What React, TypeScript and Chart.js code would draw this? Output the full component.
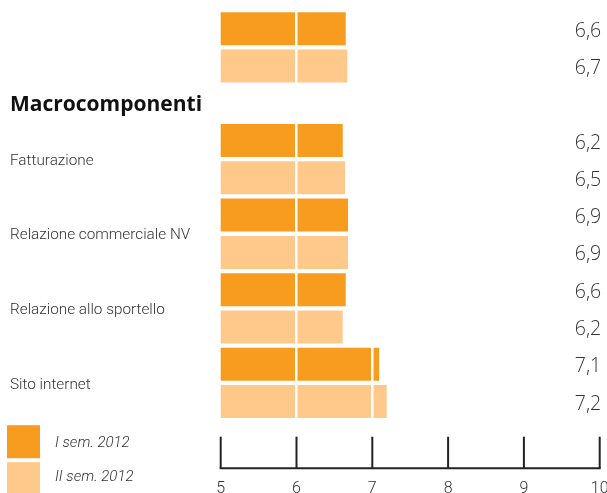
import React, { useEffect, useRef } from "react";
import { Chart, registerables } from "chart.js";

Chart.register(...registerables);

// ---- data ----
const rowKeys = [
  "totale-1", "totale-2", "header",
  "fatturazione-1", "fatturazione-2",
  "commerciale-1", "commerciale-2",
  "sportello-1", "sportello-2",
  "sito-1", "sito-2",
];
const series1Label = "I sem. 2012";
const series2Label = "II sem. 2012";
const series1Values = [6.65, null, null, 6.61, null, 6.68, null, 6.65, null, 7.09, null];
const series2Values = [null, 6.67, null, null, 6.64, null, 6.68, null, 6.61, null, 7.19];
const valueLabels = ["6,6", "6,7", "", "6,2", "6,5", "6,9", "6,9", "6,6", "6,2", "7,1", "7,2"];
const headerLabel = "Macrocomponenti";
const headerRow = 2;
const groupLabels = ["Fatturazione", "Relazione commerciale NV", "Relazione allo sportello", "Sito internet"];
const groupFirstRows = [3, 5, 7, 9];
const xTickValues = [5, 6, 7, 8, 9, 10];

// ---- styles ----
const DARK = "#F89C1F";
const LIGHT = "#FEC98B";
const TEXT = "#333333";
const FONT = "Roboto";

const overlayPlugin = {
  id: "overlay",
  afterDraw(chart: any) {
    const ctx = chart.ctx as CanvasRenderingContext2D;
    const xs = chart.scales.x;
    const ys = chart.scales.y;
    const area = chart.chartArea;
    ctx.save();
    ctx.textAlign = "left";
    ctx.textBaseline = "alphabetic";

    // header
    ctx.fillStyle = "#111111";
    ctx.font = `bold 21px "Open Sans"`;
    ctx.fillText(headerLabel, 10, ys.getPixelForValue(headerRow) + 7.7);

    // group labels
    ctx.fillStyle = TEXT;
    ctx.font = `300 15.3px ${FONT}`;
    groupLabels.forEach((g, i) => {
      const r = groupFirstRows[i];
      const cy = (ys.getPixelForValue(r) + ys.getPixelForValue(r + 1)) / 2;
      ctx.fillText(g, 10, cy + 5.7);
    });

    // value labels
    ctx.textAlign = "right";
    ctx.font = `300 19.5px "Open Sans"`;
    valueLabels.forEach((v, i) => {
      if (!v) return;
      ctx.fillText(v, area.right + 1.5, ys.getPixelForValue(i) + 8);
    });

    // x axis
    const axisY = area.bottom + 48;
    const tickTop = area.bottom + 16.5;
    ctx.strokeStyle = "#222222";
    ctx.lineWidth = 2;
    ctx.beginPath();
    ctx.moveTo(xs.getPixelForValue(xTickValues[0]) - 1, axisY);
    ctx.lineTo(xs.getPixelForValue(xTickValues[xTickValues.length - 1]) + 1, axisY);
    ctx.stroke();
    ctx.font = `300 16px ${FONT}`;
    ctx.textAlign = "center";
    ctx.fillStyle = TEXT;
    xTickValues.forEach((t) => {
      const px = xs.getPixelForValue(t);
      ctx.beginPath();
      ctx.moveTo(px, tickTop);
      ctx.lineTo(px, axisY);
      ctx.stroke();
      ctx.fillText(String(t), px, area.bottom + 73);
    });

    // legend
    const ds = chart.data.datasets;
    const legendTops = [area.bottom + 5, area.bottom + 42];
    ctx.textAlign = "left";
    ctx.font = `italic 300 15px ${FONT}`;
    ds.forEach((d: any, i: number) => {
      ctx.fillStyle = d.backgroundColor;
      ctx.fillRect(7, legendTops[i], 33, 33);
      ctx.fillStyle = TEXT;
      ctx.fillText(d.label, 55, legendTops[i] + 21.5 - i * 3);
    });
    ctx.restore();
  },
};

export default function App() {
  const ref = useRef<HTMLCanvasElement | null>(null);
  useEffect(() => {
    if (!ref.current) return;
    const chart = new Chart(ref.current, {
      type: "bar",
      data: {
        labels: rowKeys,
        datasets: [
          { label: series1Label, data: series1Values as any, backgroundColor: DARK },
          { label: series2Label, data: series2Values as any, backgroundColor: LIGHT },
        ],
      },
      options: {
        indexAxis: "y",
        animation: false,
        responsive: true,
        maintainAspectRatio: false,
        layout: { padding: { left: 220.7, right: 7.3, top: 10, bottom: 72.8 } },
        datasets: {
          bar: { grouped: false, categoryPercentage: 1, barPercentage: 0.885, borderWidth: 0 },
        } as any,
        scales: {
          x: {
            type: "linear",
            min: 5,
            max: 10,
            ticks: { display: false, stepSize: 1 },
            border: { display: false },
            grid: {
              z: 1,
              drawTicks: false,
              lineWidth: 2.5,
              color: (c: any) =>
                c.tick && c.tick.value > 5 && c.tick.value < 10 ? "#ffffff" : "rgba(0,0,0,0)",
            } as any,
          },
          y: { type: "category", display: false },
        },
        plugins: { legend: { display: false }, tooltip: { enabled: false } },
      },
      plugins: [overlayPlugin],
    });
    return () => chart.destroy();
  }, []);
  return (
    <div style={{ position: "absolute", left: 0, top: 0, width: 607, height: 493, background: "#fff" }}>
      <canvas ref={ref} />
    </div>
  );
}
